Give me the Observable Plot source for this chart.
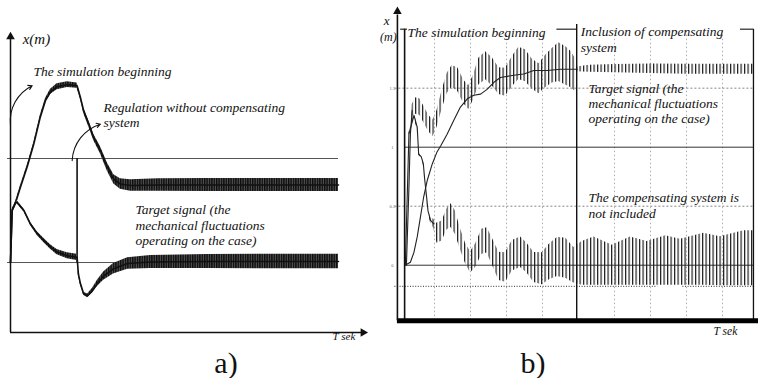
<!DOCTYPE html>
<html>
<head>
<meta charset="utf-8">
<script src="https://cdn.jsdelivr.net/npm/d3@7"></script>
<script src="https://cdn.jsdelivr.net/npm/@observablehq/plot@0.6"></script>
<style>
  html, body { margin: 0; padding: 0; background: #fff; }
  #page { position: relative; width: 758px; height: 378px; overflow: hidden; background: #fff; }
  #pa { position: absolute; left: 0; top: 0; }
  #pb { position: absolute; left: 380px; top: 0; }
  #page svg text { font-family: "Liberation Serif", "Times New Roman", serif; }
  .cap { position: absolute; top: 348px; width: 60px; text-align: center;
         font-family: "Liberation Serif", serif; font-size: 30px; line-height: 30px; color: #111; }
</style>
</head>
<body>
<div id="page">
  <div id="pa"></div>
  <div id="pb"></div>
  <div class="cap" style="left:196px">a)</div>
  <div class="cap" style="left:503px">b)</div>
</div>
<script>
// ---------- Panel a data (t in s, x in m) ----------
const aUpperT   = [0, 0.05, 0.15, 0.30, 0.51, 0.71, 0.91, 1.07, 1.22, 1.42, 1.73, 2.03, 2.13, 2.23, 2.39, 2.54, 2.74, 2.95, 3.15, 3.35, 3.66, 4.5, 6, 8, 10];
const aUpperC   = [0, 0.50, 0.57, 0.72, 0.92, 1.14, 1.40, 1.56, 1.64, 1.69, 1.71, 1.70, 1.59, 1.46, 1.33, 1.20, 1.08, 0.92, 0.80, 0.755, 0.74, 0.745, 0.745, 0.745, 0.745];
const aUpperAmp = [0.008, 0.01, 0.012, 0.015, 0.015, 0.015, 0.018, 0.02, 0.025, 0.028, 0.028, 0.025, 0.02, 0.025, 0.03, 0.03, 0.035, 0.04, 0.045, 0.05, 0.055, 0.06, 0.062, 0.062, 0.062];

const aLowerT   = [0, 0.05, 0.15, 0.20, 0.41, 0.61, 0.81, 1.02, 1.22, 1.42, 1.73, 2.03, 2.07, 2.13, 2.23, 2.35, 2.50, 2.65, 2.84, 3.14, 3.57, 4.27, 6, 8, 10];
const aLowerC   = [0, 0.50, 0.57, 0.58, 0.50, 0.37, 0.28, 0.21, 0.15, 0.10, 0.065, 0.05, -0.11, -0.20, -0.30, -0.32, -0.27, -0.20, -0.13, -0.06, -0.01, 0.005, 0.01, 0.01, 0.01];
const aLowerAmp = [0.008, 0.01, 0.012, 0.015, 0.015, 0.015, 0.018, 0.02, 0.022, 0.025, 0.028, 0.03, 0.015, 0.015, 0.015, 0.018, 0.022, 0.03, 0.04, 0.05, 0.055, 0.062, 0.068, 0.07, 0.07];

const aRefLevels = [0, 1];
const aSwitchT = 2.03;

// ---------- Panel b data ----------
const bTargetT = [0.22, 0.33, 0.43, 0.52, 0.61, 0.70, 0.80, 0.94, 1.07, 1.17, 1.35, 1.54, 1.72, 1.91, 2.09, 2.28, 2.46, 2.65, 2.83, 3.20, 3.48, 3.76, 4.13, 4.50, 4.96];
const bTarget  = [0.006, 0.025, 0.11, 0.24, 0.41, 0.58, 0.72, 0.86, 0.96, 1.01, 1.11, 1.23, 1.34, 1.41, 1.44, 1.45, 1.49, 1.55, 1.59, 1.61, 1.62, 1.65, 1.65, 1.66, 1.66];

const bUpT   = [0.22, 0.29, 0.33, 0.38, 0.47, 0.59, 0.70, 0.84, 0.96, 1.07, 1.21, 1.35, 1.49, 1.65, 1.81, 1.95, 2.09, 2.23, 2.42, 2.60, 2.79, 2.97, 3.16, 3.34, 3.53, 3.71, 3.90, 4.08, 4.27, 4.45, 4.64, 4.78, 4.92,
                4.96, 5.3, 6, 7, 8, 9, 9.86];
const bUpC   = [0, 0.66, 1.11, 1.31, 1.35, 1.34, 1.28, 1.20, 1.16, 1.24, 1.40, 1.54, 1.60, 1.57, 1.47, 1.42, 1.51, 1.64, 1.69, 1.64, 1.56, 1.55, 1.64, 1.71, 1.69, 1.62, 1.58, 1.64, 1.69, 1.72, 1.69, 1.66, 1.61,
                1.66, 1.665, 1.665, 1.665, 1.66, 1.66, 1.66];
const bUpAmp = [0.005, 0.01, 0.02, 0.05, 0.07, 0.07, 0.07, 0.07, 0.07, 0.07, 0.08, 0.085, 0.093, 0.10, 0.10, 0.10, 0.107, 0.113, 0.119, 0.119, 0.113, 0.119, 0.127, 0.136, 0.136, 0.127, 0.127, 0.136, 0.147, 0.164, 0.164, 0.155, 0.14,
                0.02, 0.03, 0.035, 0.04, 0.042, 0.042, 0.042];

const bLowT   = [0.19, 0.29, 0.43, 0.52, 0.56, 0.63, 0.69, 0.73, 0.78, 0.82, 0.89, 0.98, 1.07, 1.21, 1.35, 1.46, 1.58, 1.72, 1.86, 2.00, 2.14, 2.32, 2.46, 2.60, 2.79, 2.97, 3.16, 3.39, 3.57, 3.76, 3.99, 4.18, 4.41, 4.64, 4.87,
                 5.1, 5.43, 5.94, 6.44, 6.91, 7.42, 7.83, 8.48, 8.94, 9.59, 9.86];
const bLowC   = [0, 1.11, 1.27, 1.17, 0.94, 0.92, 0.86, 0.72, 0.58, 0.46, 0.38, 0.35, 0.27, 0.29, 0.39, 0.42, 0.36, 0.22, 0.10, 0.025, 0.08, 0.20, 0.21, 0.12, -0.01, -0.02, 0.08, 0.11, 0.06, -0.02, -0.03, 0.025, 0.07, 0.06, 0.0,
                 0.015, 0.034, 0.0, 0.035, 0.015, 0.04, 0.025, 0.05, 0.033, 0.058, 0.058];
const bLowAmp = [0.005, 0.01, 0.02, 0.015, 0.01, 0.01, 0.01, 0.01, 0.01, 0.01, 0.02, 0.04, 0.085, 0.085, 0.09, 0.10, 0.10, 0.09, 0.085, 0.09, 0.10, 0.107, 0.107, 0.113, 0.12, 0.125, 0.13, 0.13, 0.127, 0.127, 0.136, 0.15, 0.165, 0.17, 0.15,
                 0.185, 0.204, 0.17, 0.205, 0.185, 0.21, 0.195, 0.22, 0.208, 0.233, 0.233];

const bGridT = [1, 2, 3, 4, 6, 7, 8, 9];
const bSolidLevels = [0, 1];
const bDottedLevels = [0.5, 1.5];
const bTickLabels = ["1.5", "1", "0.5", "0"];
const bTickValues = [1.5, 1, 0.5, 0];
const bTopSegStart = [0.06, 4.4, 9.5];
const bTopSegEnd   = [0.25, 4.95, 9.86];
const bNoiseStart = [-0.1, 7.9];
const bNoiseEnd   = [7.2, 9.86];
const bInclusionT = 4.95;

// ---------- helpers ----------
function band(T, C, A) {
  return T.map((t, i) => ({t, c: C[i], a: A[i], lo: C[i] - A[i], hi: C[i] + A[i]}));
}
function addStripes(svg, id, period, sw, fg, bg) {
  let defs = d3.select(svg).select("defs");
  if (defs.empty()) defs = d3.select(svg).insert("defs", ":first-child");
  const p = defs.append("pattern").attr("id", id)
    .attr("patternUnits", "userSpaceOnUse").attr("width", period).attr("height", 8);
  if (bg) p.append("rect").attr("width", period).attr("height", 8).attr("fill", bg);
  p.append("rect").attr("width", sw).attr("height", 8).attr("fill", fg);
}
const serifItalic = {fontFamily: "Liberation Serif", fontStyle: "italic", fill: "#111"};

// ---------- Panel a ----------
const aUp = band(aUpperT, aUpperC, aUpperAmp);
const aLo = band(aLowerT, aLowerC, aLowerAmp);

const plotA = Plot.plot({
  width: 380, height: 378,
  marginTop: 0, marginBottom: 0, marginLeft: 0, marginRight: 0,
  x: {domain: [-0.305, 11.28], axis: null},
  y: {domain: [-1.115, 2.519], axis: null},
  style: {background: "white", overflow: "hidden"},
  marks: [
    Plot.ruleY(aRefLevels, {x1: -0.09, x2: 10, stroke: "#555", strokeWidth: 1}),
    Plot.ruleX([aSwitchT], {y1: 0, y2: 1, stroke: "#111", strokeWidth: 1.6}),
    Plot.areaY(aUp, {x: "t", y1: "lo", y2: "hi", fill: "url(#stripeA)"}),
    Plot.line(aUp, {x: "t", y: "c", stroke: "#111", strokeWidth: 1.6}),
    Plot.areaY(aLo, {x: "t", y1: "lo", y2: "hi", fill: "url(#stripeA)"}),
    Plot.line(aLo, {x: "t", y: "c", stroke: "#111", strokeWidth: 1.6}),
    // axes
    Plot.ruleX([0], {y1: -0.673, y2: 2.15, stroke: "#111", strokeWidth: 1.5}),
    Plot.dot([0], {x: 0, y: 2.17, symbol: "triangle", r: 3.2, fill: "#111", stroke: "none"}),
    Plot.ruleY([-0.673], {x1: 0, x2: 10.72, stroke: "#111", strokeWidth: 1.5}),
    Plot.dot([0], {x: 10.75, y: -0.673, symbol: "triangle", rotate: 90, r: 3.2, fill: "#111", stroke: "none"}),
    // annotation arrows
    Plot.arrow([0], {x1: 0, y1: 1.32, x2: 0.66, y2: 1.70, bend: 35, headLength: 6, stroke: "#111", strokeWidth: 1.1}),
    Plot.arrow([0], {x1: 1.88, y1: 0.98, x2: 2.74, y2: 1.33, bend: 35, headLength: 6, stroke: "#111", strokeWidth: 1.1}),
    // texts
    Plot.text(["x(m)"], {x: 0.37, y: 2.144, text: d => d, textAnchor: "start", fontSize: 15, ...serifItalic}),
    Plot.text(["The simulation beginning"], {x: 0.70, y: 1.837, text: d => d, textAnchor: "start", fontSize: 13.5, ...serifItalic}),
    Plot.text(["Regulation without compensating\nsystem"], {x: 2.835, y: 1.553, text: d => d, textAnchor: "start", lineAnchor: "top", lineHeight: 1.11, fontSize: 13.5, ...serifItalic}),
    Plot.text(["Target signal (the\nmechanical fluctuations\noperating on the case)"], {x: 3.81, y: 0.572, text: d => d, textAnchor: "start", lineAnchor: "top", lineHeight: 1.15, fontSize: 13.5, ...serifItalic}),
    Plot.text(["T sek"], {x: 9.82, y: -0.712, text: d => d, textAnchor: "start", fontSize: 11, ...serifItalic})
  ]
});
addStripes(plotA, "stripeA", 2.4, 1.4, "#0d0d0d", "#555");
document.getElementById("pa").appendChild(plotA);

// ---------- Panel b ----------
const bUp = band(bUpT, bUpC, bUpAmp);
const bLo = band(bLowT, bLowC, bLowAmp);
const bTgt = bTargetT.map((t, i) => ({t, v: bTarget[i]}));
const bTop = bTopSegStart.map((s, i) => ({s, e: bTopSegEnd[i]}));
const bNoise = bNoiseStart.map((s, i) => ({s, e: bNoiseEnd[i]}));
const bTicks = bTickValues.map((v, i) => ({v, label: bTickLabels[i]}));
// thin centre trace only where the oscillation is negligible (start-up)
const thinY = d => (d.t < 1 && d.a <= 0.05) ? d.c : NaN;

const plotB = Plot.plot({
  width: 378, height: 378,
  marginTop: 0, marginBottom: 0, marginLeft: 0, marginRight: 0,
  x: {domain: [-0.5, 10], axis: null},
  y: {domain: [-0.960, 2.243], axis: null},
  style: {background: "white", overflow: "hidden"},
  marks: [
    // grid
    Plot.ruleX(bGridT, {y1: -0.47, y2: 2.0, stroke: "#999", strokeWidth: 0.8, strokeDasharray: "1.5,2.5"}),
    Plot.ruleY(bDottedLevels, {x1: -0.1, x2: 9.86, stroke: "#777", strokeWidth: 0.9, strokeDasharray: "2,2"}),
    Plot.ruleY(bSolidLevels, {x1: 0.17, x2: 9.86, stroke: "#333", strokeWidth: 1}),
    Plot.ruleY(bNoise, {x1: "s", x2: "e", y: -0.18, stroke: "#555", strokeWidth: 1.2, strokeDasharray: "1,1.6"}),
    // signals
    Plot.areaY(bLo, {x: "t", y1: "lo", y2: "hi", fill: "url(#stripeB)"}),
    Plot.line(bLo, {x: "t", y: thinY, stroke: "#222", strokeWidth: 1.1}),
    Plot.areaY(bUp, {x: "t", y1: "lo", y2: "hi", fill: "url(#stripeB)"}),
    Plot.line(bUp, {x: "t", y: thinY, stroke: "#222", strokeWidth: 1.1}),
    Plot.line(bTgt, {x: "t", y: "v", stroke: "#222", strokeWidth: 1.1}),
    // frame
    Plot.ruleX([0.17], {y1: -0.47, y2: 2.0, stroke: "#111", strokeWidth: 1.6}),
    Plot.ruleX([9.86], {y1: -0.47, y2: 2.0, stroke: "#111", strokeWidth: 1.3}),
    Plot.ruleX([bInclusionT], {y1: -0.47, y2: 2.04, stroke: "#111", strokeWidth: 1.4}),
    Plot.ruleY(bTop, {x1: "s", x2: "e", y: 2.0, stroke: "#111", strokeWidth: 1.1}),
    Plot.ruleY([-0.47], {x1: -0.03, x2: 10, stroke: "#000", strokeWidth: 5}),
    Plot.ruleX([-0.03], {y1: -0.47, y2: 2.12, stroke: "#111", strokeWidth: 1.6}),
    Plot.dot([0], {x: -0.03, y: 2.15, symbol: "triangle", r: 3.2, fill: "#111", stroke: "none"}),
    Plot.text(bTicks, {x: -0.17, y: "v", text: "label", fontSize: 4.5, fill: "#666"}),
    // texts
    Plot.text(["x"], {x: -0.33, y: 2.07, text: d => d, fontSize: 13, ...serifItalic}),
    Plot.text(["(m)"], {x: -0.28, y: 1.93, text: d => d, fontSize: 12, ...serifItalic}),
    Plot.text(["The simulation beginning"], {x: 0.25, y: 1.972, text: d => d, textAnchor: "start", fontSize: 13.5, ...serifItalic}),
    Plot.text(["Inclusion of compensating\nsystem"], {x: 5.06, y: 2.03, text: d => d, textAnchor: "start", lineAnchor: "top", lineHeight: 1.13, fontSize: 13.5, ...serifItalic}),
    Plot.text(["Target signal (the\nmechanical fluctuations\noperating on the case)"], {x: 5.28, y: 1.55, text: d => d, textAnchor: "start", lineAnchor: "top", lineHeight: 1.11, fontSize: 13.5, ...serifItalic}),
    Plot.text(["The compensating system is\nnot included"], {x: 5.28, y: 0.629, text: d => d, textAnchor: "start", lineAnchor: "top", lineHeight: 1.15, fontSize: 13.5, ...serifItalic}),
    Plot.text(["T sek"], {x: 8.75, y: -0.562, text: d => d, textAnchor: "start", fontSize: 11.5, ...serifItalic})
  ]
});
addStripes(plotB, "stripeB", 3.5, 1.2, "#1a1a1a", null);
document.getElementById("pb").appendChild(plotB);
</script>
</body>
</html>
